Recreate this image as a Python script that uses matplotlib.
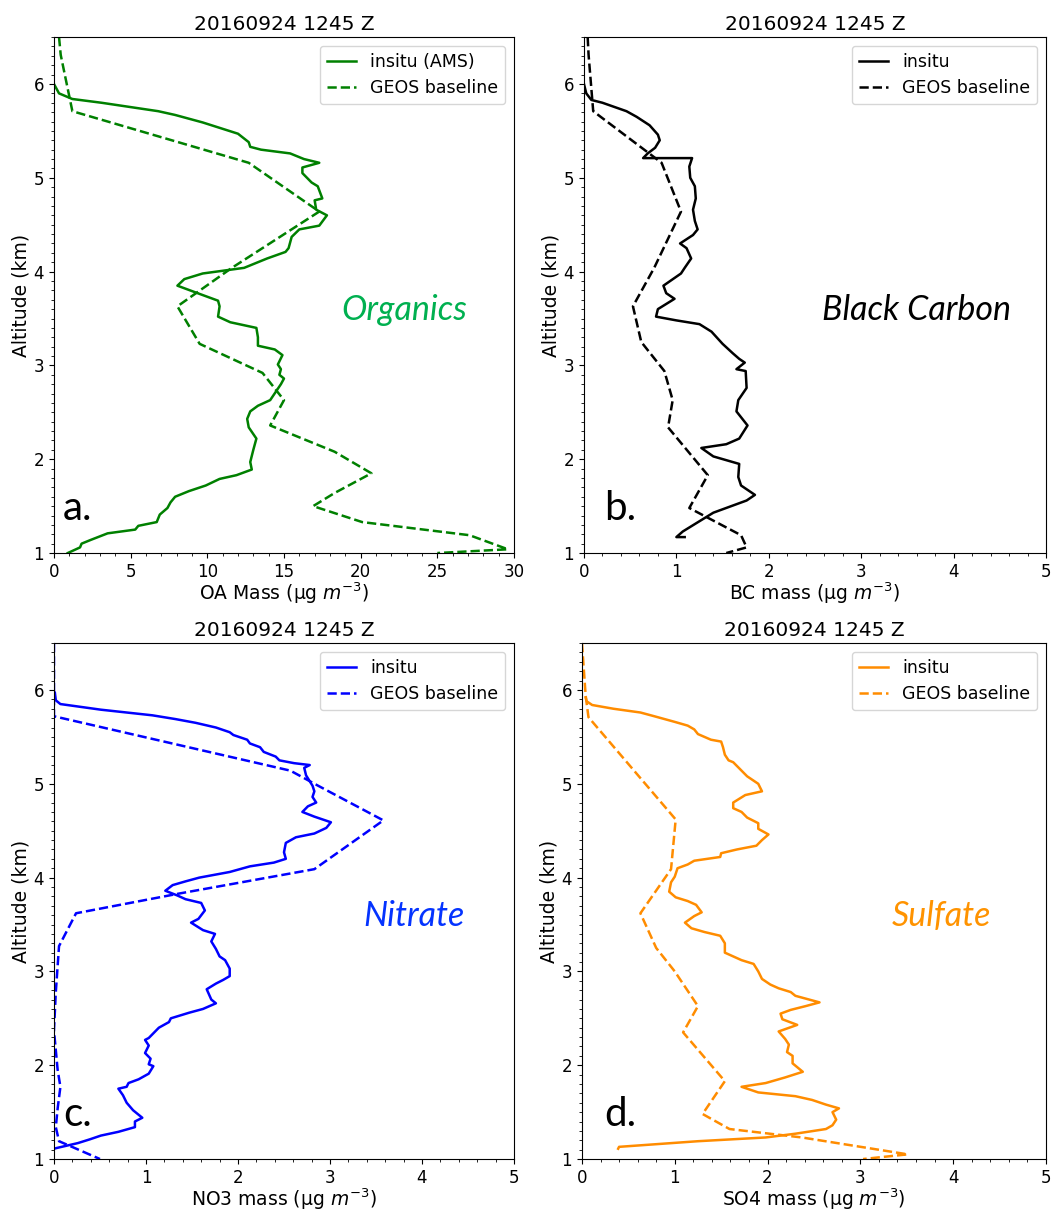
import numpy as np
import matplotlib
matplotlib.use("Agg")
import matplotlib.pyplot as plt
from matplotlib.ticker import AutoMinorLocator, MultipleLocator

# ---- data (mass, altitude km) ----
oa_insitu_x = [0.0, 0.33, 1.2, 3.1, 6.8, 7.9, 9.7, 12.0, 12.7, 12.8, 13.5, 15.4, 16.3, 17.3, 16.2, 16.2,
               16.8, 17.2, 17.5, 17.0, 17.1, 17.8, 17.3, 16.0, 15.5, 15.3, 15.1, 13.9, 12.4, 9.7, 8.5,
               8.05, 9.7, 10.7, 10.8, 10.7, 11.5, 13.2, 13.3, 13.3, 14.4, 14.9, 14.6, 14.8, 14.7, 15.0,
               14.8, 14.1, 13.3, 12.8, 12.6, 12.7, 13.2, 13.0, 12.8, 12.9, 11.9, 10.8, 9.9, 8.8, 7.9,
               7.6, 7.4, 6.9, 6.7, 5.5, 5.3, 3.5, 2.4, 1.8, 1.7, 0.9]
oa_insitu_y = [6.0, 5.90, 5.84, 5.80, 5.71, 5.67, 5.59, 5.47, 5.38, 5.33, 5.30, 5.26, 5.20, 5.16, 5.11, 5.05,
               4.95, 4.91, 4.78, 4.76, 4.66, 4.60, 4.49, 4.45, 4.37, 4.25, 4.21, 4.14, 4.04, 3.98, 3.92,
               3.85, 3.75, 3.69, 3.63, 3.52, 3.46, 3.40, 3.30, 3.21, 3.17, 3.11, 3.01, 2.96, 2.90, 2.86,
               2.80, 2.63, 2.57, 2.51, 2.43, 2.34, 2.22, 2.10, 1.97, 1.89, 1.83, 1.79, 1.72, 1.66, 1.60,
               1.54, 1.48, 1.41, 1.33, 1.29, 1.25, 1.21, 1.14, 1.10, 1.06, 1.0]
oa_geos_x = [0.33, 0.44, 1.2, 12.7, 17.3, 11.6, 8.05, 9.5, 13.6, 15.0, 14.1, 18.3, 20.7, 18.3, 16.9,
             20.1, 27.1, 29.6, 25.0]
oa_geos_y = [6.5, 6.31, 5.71, 5.16, 4.64, 4.04, 3.63, 3.23, 2.92, 2.63, 2.36, 2.08, 1.85, 1.64, 1.50,
             1.33, 1.19, 1.04, 1.0]

bc_insitu_x = [0.0, 0.025, 0.08, 0.2, 0.46, 0.57, 0.71, 0.80, 0.82, 0.77, 0.69, 0.64, 1.17, 1.14, 1.15,
               1.20, 1.21, 1.18, 1.20, 1.23, 1.18, 1.04, 1.11, 1.16, 1.09, 1.05, 0.86, 0.89, 0.98, 0.80,
               0.78, 1.0, 1.25, 1.38, 1.50, 1.61, 1.68, 1.74, 1.65, 1.75, 1.76, 1.67, 1.65, 1.77, 1.68,
               1.54, 1.27, 1.40, 1.68, 1.67, 1.70, 1.85, 1.76, 1.40, 1.07, 1.0, 1.09]
bc_insitu_y = [6.0, 5.90, 5.83, 5.80, 5.71, 5.65, 5.56, 5.46, 5.40, 5.32, 5.26, 5.21, 5.21, 5.12, 5.00,
               4.91, 4.78, 4.66, 4.54, 4.45, 4.39, 4.30, 4.25, 4.14, 4.04, 3.98, 3.85, 3.77, 3.71, 3.60,
               3.52, 3.48, 3.44, 3.36, 3.23, 3.13, 3.07, 3.03, 2.96, 2.94, 2.76, 2.63, 2.51, 2.36, 2.22,
               2.16, 2.12, 2.03, 1.95, 1.81, 1.72, 1.62, 1.56, 1.43, 1.23, 1.17, 1.17]
bc_geos_x = [0.04, 0.05, 0.10, 0.84, 1.05, 0.76, 0.53, 0.62, 0.87, 0.96, 0.91, 1.34, 1.14, 1.70, 1.76, 1.54]
bc_geos_y = [6.5, 6.31, 5.71, 5.16, 4.64, 4.04, 3.63, 3.25, 2.94, 2.63, 2.34, 1.83, 1.48, 1.19, 1.06, 1.0]

no3_insitu_x = [0.01, 0.02, 0.07, 0.51, 1.07, 1.32, 1.54, 1.76, 1.91, 1.95, 2.10, 2.13, 2.24, 2.28, 2.41,
                2.45, 2.61, 2.78, 2.72, 2.74, 2.81, 2.83, 2.81, 2.85, 2.76, 2.70, 2.83, 3.01, 2.96, 2.83,
                2.63, 2.52, 2.50, 2.52, 2.39, 2.13, 1.91, 1.58, 1.43, 1.29, 1.21, 1.34, 1.43, 1.60, 1.64,
                1.57, 1.49, 1.62, 1.75, 1.71, 1.76, 1.80, 1.86, 1.91, 1.91, 1.84, 1.76, 1.66, 1.71, 1.76,
                1.62, 1.47, 1.27, 1.25, 1.14, 1.03, 0.99, 1.03, 0.99, 1.05, 1.03, 1.08, 1.03, 0.92, 0.81,
                0.79, 0.70, 0.75, 0.79, 0.86, 0.96, 0.88, 0.88, 0.70, 0.51, 0.39, 0.26, 0.04, 0.0]
no3_insitu_y = [5.97, 5.89, 5.85, 5.79, 5.73, 5.69, 5.65, 5.60, 5.55, 5.52, 5.47, 5.43, 5.39, 5.34, 5.29,
                5.25, 5.22, 5.20, 5.17, 5.09, 4.98, 4.92, 4.86, 4.80, 4.76, 4.70, 4.65, 4.59, 4.53, 4.47,
                4.43, 4.37, 4.27, 4.20, 4.16, 4.12, 4.06, 4.00, 3.96, 3.92, 3.86, 3.81, 3.77, 3.73, 3.65,
                3.56, 3.52, 3.44, 3.40, 3.32, 3.24, 3.16, 3.12, 3.03, 2.95, 2.91, 2.87, 2.81, 2.70, 2.66,
                2.60, 2.56, 2.50, 2.46, 2.40, 2.29, 2.27, 2.21, 2.13, 2.07, 2.01, 1.99, 1.91, 1.85, 1.81,
                1.77, 1.75, 1.68, 1.60, 1.52, 1.44, 1.40, 1.34, 1.29, 1.25, 1.21, 1.17, 1.12, 1.11]
no3_geos_x = [0.0, 0.0, 2.57, 2.87, 3.58, 2.83, 1.36, 0.24, 0.055, 0.02, 0.0, 0.04, 0.07, 0.04, 0.02,
              0.055, 0.5]
no3_geos_y = [6.5, 5.72, 5.14, 4.98, 4.61, 4.09, 3.83, 3.62, 3.27, 2.78, 2.37, 1.95, 1.77, 1.54, 1.34,
              1.19, 1.0]

so4_insitu_x = [0.04, 0.05, 0.11, 0.34, 0.63, 0.78, 1.0, 1.14, 1.21, 1.25, 1.39, 1.50, 1.52, 1.54, 1.58,
                1.63, 1.72, 1.78, 1.90, 1.94, 1.76, 1.63, 1.63, 1.72, 1.78, 1.90, 1.90, 2.01, 1.94, 1.88,
                1.67, 1.50, 1.49, 1.21, 1.14, 1.03, 1.0, 0.96, 0.94, 1.01, 1.14, 1.23, 1.29, 1.21, 1.11,
                1.18, 1.32, 1.49, 1.54, 1.54, 1.63, 1.72, 1.85, 1.90, 1.94, 2.03, 2.12, 2.25, 2.30, 2.56,
                2.41, 2.25, 2.14, 2.16, 2.32, 2.12, 2.19, 2.23, 2.21, 2.27, 2.27, 2.38, 2.19, 1.98, 1.72,
                1.90, 2.30, 2.48, 2.63, 2.77, 2.70, 2.74, 2.70, 2.63, 2.30, 1.98, 1.25, 0.40, 0.39]
so4_insitu_y = [5.92, 5.88, 5.84, 5.80, 5.76, 5.72, 5.66, 5.62, 5.58, 5.53, 5.47, 5.45, 5.39, 5.31, 5.25,
                5.23, 5.14, 5.08, 5.00, 4.92, 4.88, 4.80, 4.74, 4.70, 4.64, 4.58, 4.52, 4.46, 4.40, 4.34,
                4.30, 4.26, 4.22, 4.18, 4.14, 4.10, 4.01, 3.95, 3.85, 3.79, 3.75, 3.71, 3.63, 3.59, 3.52,
                3.46, 3.42, 3.38, 3.30, 3.20, 3.16, 3.12, 3.08, 3.00, 2.92, 2.86, 2.82, 2.78, 2.74, 2.67,
                2.63, 2.59, 2.55, 2.49, 2.43, 2.36, 2.28, 2.22, 2.14, 2.10, 2.02, 1.93, 1.87, 1.81, 1.77,
                1.71, 1.67, 1.63, 1.58, 1.54, 1.50, 1.42, 1.36, 1.32, 1.27, 1.23, 1.19, 1.13, 1.11]
so4_geos_x = [0.0, 0.04, 0.07, 1.01, 0.96, 0.63, 0.80, 1.0, 1.25, 1.09, 1.54, 1.30, 1.59, 2.37, 3.51, 3.03]
so4_geos_y = [6.5, 5.94, 5.71, 4.62, 4.09, 3.62, 3.25, 3.0, 2.63, 2.35, 1.83, 1.48, 1.32, 1.23, 1.05, 1.0]

title = "20160924 1245 Z"

panels = [
    # (insitu x, insitu y, geos x, geos y, line colour, insitu label, xlabel, xmax, name, name colour, letter)
    (oa_insitu_x, oa_insitu_y, oa_geos_x, oa_geos_y, "green", "insitu (AMS)",
     r"OA Mass ($\mathregular{\mu}$g $m^{-3}$)", 30, "Organics", "#00B050", "a."),
    (bc_insitu_x, bc_insitu_y, bc_geos_x, bc_geos_y, "black", "insitu",
     r"BC mass ($\mathregular{\mu}$g $m^{-3}$)", 5, "Black Carbon", "black", "b."),
    (no3_insitu_x, no3_insitu_y, no3_geos_x, no3_geos_y, "blue", "insitu",
     r"NO3 mass ($\mathregular{\mu}$g $m^{-3}$)", 5, "Nitrate", "#0433FF", "c."),
    (so4_insitu_x, so4_insitu_y, so4_geos_x, so4_geos_y, "darkorange", "insitu",
     r"SO4 mass ($\mathregular{\mu}$g $m^{-3}$)", 5, "Sulfate", "#FF9300", "d."),
]

# axes rectangles in figure fractions
rects = [
    [0.0513, 0.5437, 0.4373, 0.4257],
    [0.5551, 0.5437, 0.4392, 0.4257],
    [0.0513, 0.0437, 0.4373, 0.4257],
    [0.5532, 0.0437, 0.4410, 0.4257],
]
name_x = [0.624, 0.515, 0.672, 0.668]
letter_x = [0.02, 0.043, 0.02, 0.047]

fig = plt.figure(figsize=(10.52, 12.12), dpi=100)

for p, rect, nx, lx in zip(panels, rects, name_x, letter_x):
    ix, iy, gx, gy, col, lab, xlab, xmax, name, ncol, letter = p
    ax = fig.add_axes(rect)
    ax.plot(ix, iy, color=col, lw=1.8, label=lab)
    ax.plot(gx, gy, color=col, lw=1.8, ls="--", label="GEOS baseline")
    ax.set_xlim(0, xmax)
    ax.set_ylim(1, 6.5)
    ax.yaxis.set_major_locator(MultipleLocator(1))
    ax.yaxis.set_minor_locator(AutoMinorLocator(10))
    ax.xaxis.set_minor_locator(AutoMinorLocator(5))
    ax.tick_params(labelsize=12)
    ax.set_xlabel(xlab, fontsize=13.5, labelpad=0)
    ax.set_ylabel("Altitude (km)", fontsize=13.5, labelpad=2)
    ax.set_title(title, fontsize=14.5, pad=5)
    ax.legend(loc="upper right", fontsize=12.5, handlelength=1.7)
    ax.text(nx, 0.471, name, transform=ax.transAxes, color=ncol, fontsize=24.5,
            style="italic", family="Lato", ha="left", va="center")
    ax.text(lx, 0.087, letter, transform=ax.transAxes, color="black", fontsize=29,
            family="Lato", ha="left", va="center")

fig.savefig("out.png", dpi=100)
